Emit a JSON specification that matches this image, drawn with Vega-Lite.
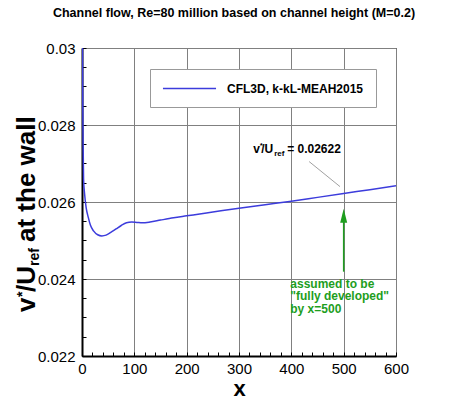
{
  "$schema": "https://vega.github.io/schema/vega-lite/v6.json",
  "width": 314,
  "height": 308,
  "autosize": {"type": "none"},
  "padding": {"left": 82, "top": 48, "right": 54, "bottom": 45},
  "background": "white",
  "title": {
    "text": "Channel flow, Re=80 million based on channel height (M=0.2)",
    "fontSize": 12.5,
    "fontWeight": "bold",
    "color": "black",
    "anchor": "middle",
    "offset": 22,
    "dx": -5
  },
  "datasets": {
    "curve": [
      {"x": 0, "y": 0.0335},
      {"x": 0.5, "y": 0.031},
      {"x": 1, "y": 0.0298},
      {"x": 1.5, "y": 0.0285},
      {"x": 2, "y": 0.0276},
      {"x": 3, "y": 0.0266},
      {"x": 5, "y": 0.0262},
      {"x": 8, "y": 0.02585},
      {"x": 12, "y": 0.0256},
      {"x": 16, "y": 0.0254},
      {"x": 22, "y": 0.02525},
      {"x": 30, "y": 0.02515},
      {"x": 38, "y": 0.02512},
      {"x": 46, "y": 0.02514},
      {"x": 55, "y": 0.02521},
      {"x": 65, "y": 0.0253},
      {"x": 75, "y": 0.02539},
      {"x": 85, "y": 0.02546},
      {"x": 95, "y": 0.02548},
      {"x": 105, "y": 0.02547},
      {"x": 115, "y": 0.02546},
      {"x": 130, "y": 0.02548},
      {"x": 150, "y": 0.02553},
      {"x": 175, "y": 0.02559},
      {"x": 200, "y": 0.02564},
      {"x": 225, "y": 0.02569},
      {"x": 250, "y": 0.02574},
      {"x": 300, "y": 0.02584},
      {"x": 350, "y": 0.02593},
      {"x": 400, "y": 0.02602},
      {"x": 450, "y": 0.02612},
      {"x": 500, "y": 0.02622},
      {"x": 550, "y": 0.02632},
      {"x": 600, "y": 0.02642}
    ],
    "lead": [{"x": 434, "y": 0.02705, "x2": 493, "y2": 0.0264}],
    "arrow": [{"x": 500, "y": 0.02419, "y2": 0.0257}],
    "tip": [{"x": 500, "y": 0.02564}],
    "note": [{"x": 398, "y": 0.023774, "label": "assumed to be\n\"fully developed\"\nby x=500"}],
    "vlab": [{"x": 327, "y": 0.027273}],
    "ylab": [{"x": -90, "y": 0.023143}]
  },
  "encoding": {
    "x": {
      "field": "x",
      "type": "quantitative",
      "scale": {"domain": [0, 600], "nice": false, "zero": false},
      "axis": {
        "title": "x",
        "values": [0, 20, 40, 60, 80, 100, 120, 140, 160, 180, 200, 220, 240, 260, 280, 300, 320, 340, 360, 380, 400, 420, 440, 460, 480, 500, 520, 540, 560, 580, 600],
        "labelExpr": "datum.value % 100 == 0 ? datum.label : ''",
        "gridOpacity": {"condition": {"test": "datum.value % 100 == 0", "value": 1}, "value": 0},
        "tickSize": -4,
        "labelPadding": 9,
        "titlePadding": 2,
        "titleFontSize": 22
      }
    },
    "y": {
      "field": "y",
      "type": "quantitative",
      "scale": {"domain": [0.022, 0.03], "nice": false, "zero": false},
      "axis": {
        "title": null,
        "values": [0.022, 0.0225, 0.023, 0.0235, 0.024, 0.0245, 0.025, 0.0255, 0.026, 0.0265, 0.027, 0.0275, 0.028, 0.0285, 0.029, 0.0295, 0.03],
        "labelExpr": "(abs(datum.value * 1000 - round(datum.value * 1000)) < 0.01 && round(datum.value * 1000) % 2 == 0) ? format(datum.value, '.3~f') : ''",
        "gridOpacity": {"condition": {"test": "abs(datum.value * 1000 - round(datum.value * 1000)) < 0.01 && round(datum.value * 1000) % 2 == 0", "value": 1}, "value": 0},
        "tickSize": -4,
        "labelPadding": 11
      }
    }
  },
  "layer": [
    {
      "data": {"name": "curve"},
      "mark": {"type": "line", "clip": true, "strokeWidth": 1.5, "interpolate": "monotone"},
      "encoding": {
        "color": {
          "datum": "CFL3D, k-kL-MEAH2015",
          "type": "nominal",
          "scale": {"range": ["#3c3cdc"]},
          "legend": {
            "title": null,
            "orient": "none",
            "legendX": 68,
            "legendY": 21,
            "padding": 12,
            "strokeColor": "#999999",
            "fillColor": "white",
            "symbolType": "M-4,0H4",
            "symbolSize": 176,
            "symbolStrokeWidth": 1.5,
            "symbolOffset": 20,
            "labelOffset": 30,
            "labelFontSize": 12,
            "labelFontWeight": "bold",
            "labelColor": "black"
          }
        }
      }
    },
    {
      "data": {"name": "lead"},
      "mark": {"type": "rule", "color": "#777777", "strokeWidth": 0.7},
      "encoding": {"x2": {"field": "x2"}, "y2": {"field": "y2"}}
    },
    {
      "data": {"name": "arrow"},
      "mark": {"type": "rule", "color": "#1e9e1e", "strokeWidth": 1.5},
      "encoding": {"y2": {"field": "y2"}}
    },
    {
      "data": {"name": "tip"},
      "mark": {"type": "point", "shape": "M0,-1L0.5,1L-0.5,1Z", "size": 196, "filled": true, "opacity": 1, "color": "#1e9e1e"}
    },
    {
      "data": {"name": "note"},
      "mark": {"type": "text", "align": "left", "baseline": "alphabetic", "lineBreak": "\n", "lineHeight": 12.5, "fontSize": 12, "fontWeight": "bold", "color": "#1e9e1e"},
      "encoding": {"text": {"field": "label"}}
    },
    {
      "data": {"name": "vlab"},
      "mark": {"type": "text", "text": "v", "align": "left", "baseline": "alphabetic", "fontSize": 12, "fontWeight": "bold", "color": "black"}
    },
    {
      "data": {"name": "vlab"},
      "mark": {"type": "text", "text": "*", "align": "left", "baseline": "alphabetic", "dx": 6.5, "dy": -5, "fontSize": 8, "fontWeight": "bold", "color": "black"}
    },
    {
      "data": {"name": "vlab"},
      "mark": {"type": "text", "text": "/U", "align": "left", "baseline": "alphabetic", "dx": 8, "fontSize": 12, "fontWeight": "bold", "color": "black"}
    },
    {
      "data": {"name": "vlab"},
      "mark": {"type": "text", "text": "ref", "align": "left", "baseline": "alphabetic", "dx": 21, "dy": 3, "fontSize": 8, "fontWeight": "bold", "color": "black"}
    },
    {
      "data": {"name": "vlab"},
      "mark": {"type": "text", "text": "= 0.02622", "align": "left", "baseline": "alphabetic", "dx": 34, "fontSize": 12, "fontWeight": "bold", "color": "black"}
    },
    {
      "data": {"name": "ylab"},
      "mark": {"type": "text", "text": "v", "angle": 270, "align": "left", "baseline": "alphabetic", "fontSize": 26, "fontWeight": "bold", "color": "black"}
    },
    {
      "data": {"name": "ylab"},
      "mark": {"type": "text", "text": "*", "angle": 270, "align": "left", "baseline": "alphabetic", "dx": 15, "dy": -8, "fontSize": 14, "fontWeight": "bold", "color": "black"}
    },
    {
      "data": {"name": "ylab"},
      "mark": {"type": "text", "text": "/U", "angle": 270, "align": "left", "baseline": "alphabetic", "dx": 20, "fontSize": 26, "fontWeight": "bold", "color": "black"}
    },
    {
      "data": {"name": "ylab"},
      "mark": {"type": "text", "text": "ref", "angle": 270, "align": "left", "baseline": "alphabetic", "dx": 46, "dy": 4, "fontSize": 14, "fontWeight": "bold", "color": "black"}
    },
    {
      "data": {"name": "ylab"},
      "mark": {"type": "text", "text": "at the wall", "angle": 270, "align": "left", "baseline": "alphabetic", "dx": 70, "fontSize": 26, "fontWeight": "bold", "color": "black"}
    }
  ],
  "config": {
    "font": "Liberation Sans",
    "view": {"stroke": "#000000", "strokeWidth": 1},
    "axis": {
      "domainColor": "#000000",
      "domainWidth": 2,
      "tickColor": "#000000",
      "tickWidth": 1,
      "gridColor": "#808080",
      "gridWidth": 1,
      "labelFontSize": 15,
      "labelColor": "black",
      "labelFlush": false,
      "labelOverlap": false,
      "titleColor": "black",
      "titleFontWeight": "bold"
    }
  }
}
